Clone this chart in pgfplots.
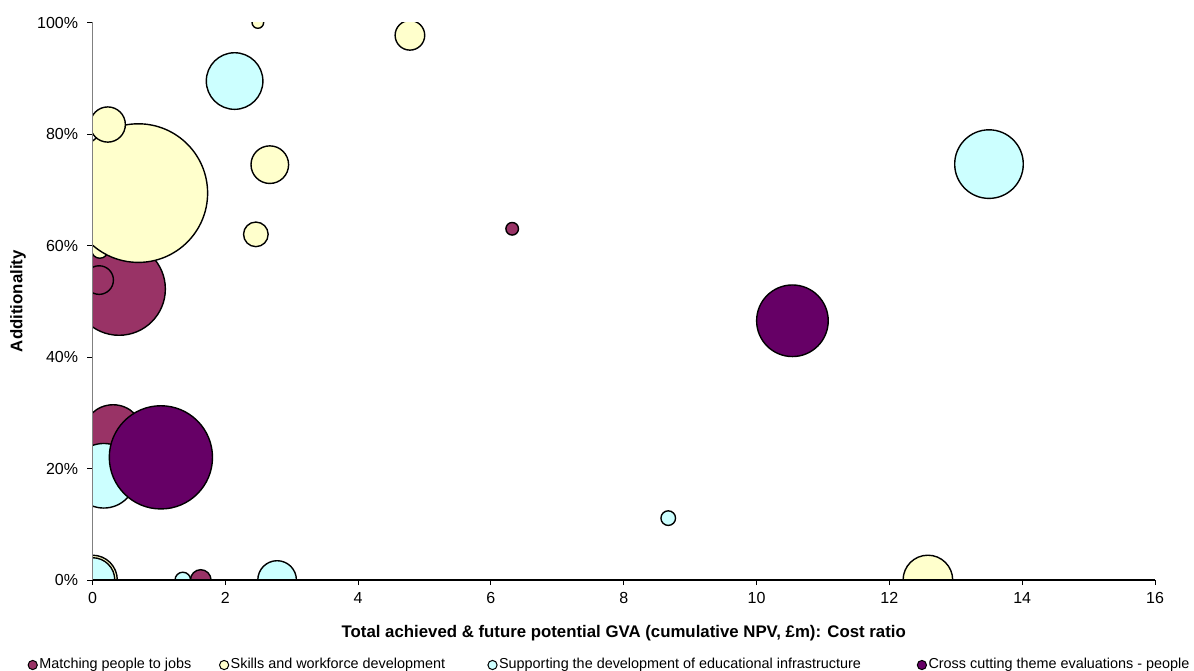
\documentclass[border=0pt]{standalone}
\usepackage{pgfplots}
\pgfplotsset{compat=1.18}
\usepackage{pgfplotstable}
\usepackage{fontspec}
\setmainfont{Liberation Sans}

\definecolor{cMatch}{HTML}{993366}
\definecolor{cSkills}{HTML}{FFFFCC}
\definecolor{cInfra}{HTML}{CCFFFF}
\definecolor{cCross}{HTML}{660066}

% x = GVA : cost ratio, y = additionality (%), s = bubble radius (pt)
\pgfplotstableread{
x y s
0.40 52.2 23.15
0.10 53.8 7.15
0.31 26.0 15.15
1.63 0.0 5.15
6.32 63.0 3.15
}\matching

\pgfplotstableread{
x y s
0.11 59.2 4.15
0.69 69.4 34.65
0.23 81.7 8.80
2.67 74.5 9.40
2.46 62.0 6.15
2.49 100.0 2.90
4.78 97.7 7.40
12.58 0.0 12.40
0.00 0.0 12.40
}\skills

\pgfplotstableread{
x y s
2.14 89.5 14.15
0.17 18.7 16.15
0.00 0.0 11.15
1.36 0.0 3.90
2.78 0.0 9.65
8.67 11.1 3.65
13.50 74.6 17.15
}\infra

\pgfplotstableread{
x y s
1.03 22.0 25.80
10.54 46.5 17.90
}\cross

\pgfplotsset{
  bubble/.style={
    scatter, only marks, mark=*, forget plot,
    line width=0.7pt,
    scatter/use mapped color={draw=black, fill=#1},
    visualization depends on={\thisrow{s}\as\rad},
    scatter/@pre marker code/.append style={/tikz/mark size=\rad},
  },
  legbubble/.style={only marks, mark=*, mark size=2.3pt, line width=0.5pt,
    mark options={draw=black, fill=#1}},
}

\begin{document}
\begin{tikzpicture}
\begin{axis}[
  scale only axis, width=531.25pt, height=278.75pt,
  xmin=0, xmax=16, ymin=0, ymax=100,
  clip marker paths=true,
  axis on top,
  axis lines*=left,
  axis line style={-},
  x axis line style={black, line width=0.6pt},
  y axis line style={gray, line width=0.6pt},
  tick align=outside,
  major tick length=2.5pt,
  tick style={black, line width=0.5pt},
  xtick={0,2,4,6,8,10,12,14,16},
  xticklabels={0,2,4,6,8,10,12,14,16},
  ytick={0,20,40,60,80,100},
  yticklabels={0\%,20\%,40\%,60\%,80\%,100\%},
  tick label style={font=\fontsize{8}{9.6}\selectfont},
  yticklabel style={xshift=-1.2pt},
  xlabel={Total achieved \& future potential GVA (cumulative NPV, £m): Cost ratio},
  xlabel style={font=\fontsize{8.4}{10}\selectfont\bfseries,
    at={(axis description cs:0.5,-0.0951)}, anchor=center},
  ylabel={Additionality},
  ylabel style={font=\fontsize{8.4}{10}\selectfont\bfseries,
    at={(axis description cs:-0.0701,0.5)}, anchor=center},
  legend style={
    at={(axis description cs:-0.0606,-0.1525)}, anchor=west,
    draw=none, fill=none, inner sep=0pt, outer sep=0pt,
    font=\fontsize{7.2}{8.6}\selectfont,
    nodes={inner sep=1pt},
    /tikz/every even column/.append style={column sep=0pt},
  },
  legend columns=4,
  legend cell align=left,
  legend image code/.code={\draw[#1] plot coordinates {(0pt,0pt)};},
]
\addplot[bubble=cMatch] table[x=x, y=y] {\matching};
\addplot[bubble=cSkills] table[x=x, y=y] {\skills};
\addplot[bubble=cInfra] table[x=x, y=y] {\infra};
\addplot[bubble=cCross] table[x=x, y=y] {\cross};

\addlegendimage{legbubble=cMatch}
\addlegendentry{\makebox[89.1pt][l]{Matching people to jobs}}
\addlegendimage{legbubble=cSkills}
\addlegendentry{\makebox[127.6pt][l]{Skills and workforce development}}
\addlegendimage{legbubble=cInfra}
\addlegendentry{\makebox[208.1pt][l]{Supporting the development of educational infrastructure}}
\addlegendimage{legbubble=cCross}
\addlegendentry{Cross cutting theme evaluations - people}
\end{axis}
\pgfresetboundingbox
\useasboundingbox (-46.25pt,-45pt) rectangle (550.75pt,290pt);
\end{tikzpicture}
\end{document}
